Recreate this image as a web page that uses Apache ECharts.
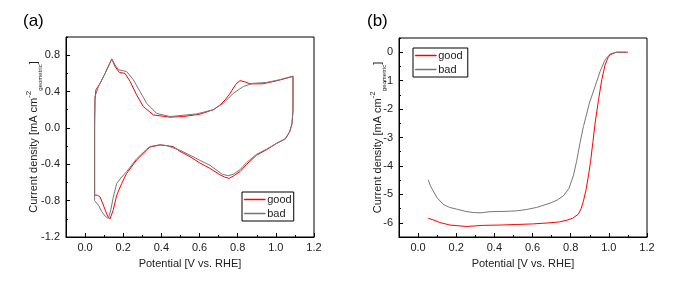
<!DOCTYPE html>
<html>
<head>
<meta charset="utf-8">
<script src="https://cdn.jsdelivr.net/npm/echarts@6/dist/echarts.min.js"></script>
<style>
  html, body { margin: 0; padding: 0; background: #fff; }
  #chart { width: 700px; height: 286px; }
</style>
</head>
<body>
<div id="chart"></div>
<script>
// (a) cyclic voltammograms, [potential V, current mA cm-2]
const cvGood = [
  [0.05, -0.74], [0.05, -0.3], [0.05, 0.02], [0.052, 0.31], [0.057, 0.42], [0.079, 0.49], [0.105, 0.6],
  [0.14, 0.758], [0.157, 0.676], [0.18, 0.61], [0.209, 0.6], [0.236, 0.51], [0.27, 0.364],
  [0.305, 0.235], [0.358, 0.143], [0.445, 0.118], [0.515, 0.125], [0.602, 0.151], [0.672, 0.2],
  [0.707, 0.25], [0.735, 0.31], [0.76, 0.38], [0.79, 0.48], [0.812, 0.52], [0.84, 0.505],
  [0.864, 0.485], [0.93, 0.485], [1.004, 0.518], [1.09, 0.566], [1.09, 0.2], [1.085, 0.05],
  [1.073, -0.04], [1.05, -0.12], [1.004, -0.17], [0.951, -0.24], [0.899, -0.3], [0.847, -0.4],
  [0.812, -0.48], [0.777, -0.53], [0.755, -0.555], [0.73, -0.54], [0.707, -0.515], [0.654, -0.445],
  [0.602, -0.386], [0.55, -0.317], [0.497, -0.257], [0.462, -0.206], [0.428, -0.195], [0.393, -0.188],
  [0.34, -0.21], [0.323, -0.243], [0.27, -0.353], [0.218, -0.5], [0.192, -0.61], [0.166, -0.74],
  [0.148, -0.9], [0.131, -1.0], [0.118, -0.97], [0.105, -0.9], [0.079, -0.76], [0.065, -0.74],
  [0.05, -0.74]
];
const cvBad = [
  [0.05, -0.8], [0.05, -0.3], [0.05, 0.1], [0.052, 0.345], [0.07, 0.455], [0.105, 0.6], [0.14, 0.76],
  [0.155, 0.7], [0.175, 0.64], [0.218, 0.62], [0.253, 0.53], [0.288, 0.4], [0.323, 0.27],
  [0.375, 0.16], [0.445, 0.125], [0.585, 0.154], [0.672, 0.2], [0.724, 0.27], [0.777, 0.38],
  [0.829, 0.455], [0.88, 0.49], [0.951, 0.5], [1.02, 0.53], [1.09, 0.57], [1.09, 0.2], [1.085, 0.05],
  [1.073, -0.04], [1.05, -0.12], [1.004, -0.17], [0.951, -0.235], [0.899, -0.29], [0.847, -0.38],
  [0.812, -0.46], [0.777, -0.51], [0.75, -0.526], [0.72, -0.51], [0.654, -0.41], [0.602, -0.357],
  [0.55, -0.3], [0.497, -0.245], [0.428, -0.195], [0.393, -0.185], [0.34, -0.205], [0.323, -0.235],
  [0.27, -0.34], [0.218, -0.48], [0.192, -0.54], [0.166, -0.61], [0.148, -0.76], [0.135, -0.9],
  [0.122, -0.996], [0.105, -0.97], [0.087, -0.92], [0.07, -0.85], [0.05, -0.8]
];

// (b) linear sweep voltammograms
const lsvGood = [
  [0.053, -5.84], [0.08, -5.9], [0.114, -5.99], [0.167, -6.08], [0.254, -6.13], [0.342, -6.09],
  [0.43, -6.08], [0.517, -6.06], [0.6, -6.04], [0.692, -6.0], [0.74, -5.97], [0.78, -5.91],
  [0.81, -5.84], [0.84, -5.7], [0.855, -5.5], [0.867, -5.23], [0.88, -4.85], [0.893, -4.35],
  [0.905, -3.8], [0.916, -3.18], [0.928, -2.49], [0.946, -1.67], [0.963, -0.97], [0.98, -0.45],
  [0.995, -0.2], [1.007, -0.09], [1.04, 0.0], [1.1, 0.0]
];
const lsvBad = [
  [0.053, -4.49], [0.065, -4.7], [0.079, -4.88], [0.1, -5.12], [0.131, -5.35], [0.165, -5.46],
  [0.202, -5.52], [0.25, -5.6], [0.289, -5.64], [0.33, -5.65], [0.377, -5.61], [0.45, -5.6],
  [0.517, -5.58], [0.57, -5.53], [0.622, -5.46], [0.692, -5.31], [0.73, -5.2], [0.762, -5.05],
  [0.79, -4.8], [0.814, -4.35], [0.832, -3.8], [0.849, -3.18], [0.867, -2.61], [0.898, -1.79],
  [0.928, -1.2], [0.954, -0.68], [0.98, -0.27], [1.007, -0.06], [1.04, 0.0], [1.09, 0.0]
];

// tick values
const xMajor = [0, 0.2, 0.4, 0.6, 0.8, 1.0, 1.2];
const xMinor = [-0.1, 0.1, 0.3, 0.5, 0.7, 0.9, 1.1];
const cvMajor = [-1.2, -0.8, -0.4, 0, 0.4, 0.8];
const cvMinor = [-1.0, -0.6, -0.2, 0.2, 0.6, 1.0];
const lsvMajor = [-6, -5, -4, -3, -2, -1, 0];
const lsvMinor = [-6.5, -5.5, -4.5, -3.5, -2.5, -1.5, -0.5, 0.5];

const RED = '#ff0000';
const GREY = '#777';
const FONT = '"Liberation Sans", Arial, sans-serif';
const yName = '{t|Current density [mA cm}{sup|-2}{sub|geometric}{t|]}';
const nameRich = {
  t: { fontSize: 11, fontFamily: FONT, color: '#222', lineHeight: 18, verticalAlign: 'middle' },
  sup: { fontSize: 8, fontFamily: FONT, color: '#222', lineHeight: 9, verticalAlign: 'top' },
  sub: { fontSize: 6, fontFamily: FONT, color: '#222', lineHeight: 7, verticalAlign: 'bottom' }
};

function xAxes(grid) {
  return [
    {
      type: 'value', gridIndex: grid, position: 'bottom', min: -0.1, max: 1.2,
      name: 'Potential [V vs. RHE]', nameLocation: 'middle', nameGap: 21, nameMoveOverlap: false,
      nameTextStyle: { fontSize: 11, fontFamily: FONT, color: '#222' },
      axisLine: { onZero: false, lineStyle: { color: '#000', width: 1 } },
      axisTick: { inside: true, length: 4, customValues: xMajor, lineStyle: { color: '#000' } },
      axisLabel: { customValues: xMajor, fontSize: 11, fontFamily: FONT, color: '#222', margin: 5,
        formatter: v => v.toFixed(1) },
      splitLine: { show: false }
    },
    {
      type: 'value', gridIndex: grid, position: 'bottom', min: -0.1, max: 1.2,
      axisLine: { show: false, onZero: false },
      axisTick: { inside: true, length: 2, customValues: xMinor, lineStyle: { color: '#000' } },
      axisLabel: { show: false },
      splitLine: { show: false }
    }
  ];
}

function yAxes(grid, min, max, major, minor, fmt, gap) {
  return [
    {
      type: 'value', gridIndex: grid, position: 'left', min: min, max: max,
      name: yName, nameLocation: 'middle', nameGap: gap, nameMoveOverlap: false,
      nameTextStyle: { rich: nameRich },
      axisLine: { show: true, onZero: false, lineStyle: { color: '#000', width: 1 } },
      axisTick: { show: true, inside: true, length: 4, customValues: major, lineStyle: { color: '#000' } },
      axisLabel: { customValues: major, fontSize: 11, fontFamily: FONT, color: '#222', margin: 6, formatter: fmt },
      splitLine: { show: false }
    },
    {
      type: 'value', gridIndex: grid, position: 'left', min: min, max: max,
      axisLine: { show: false, onZero: false },
      axisTick: { show: true, inside: true, length: 2, customValues: minor, lineStyle: { color: '#000' } },
      axisLabel: { show: false },
      splitLine: { show: false }
    }
  ];
}

function legendItems(good, bad) {
  return [
    { name: good, icon: 'rect', itemStyle: { color: RED, borderColor: RED, borderWidth: 0.5 } },
    { name: bad, icon: 'rect', itemStyle: { color: GREY, borderColor: GREY, borderWidth: 0.5 } }
  ];
}

const legendBase = {
  orient: 'vertical',
  itemWidth: 21, itemHeight: 1, itemGap: 1, padding: [1, 2, 1, 2],
  borderColor: '#000', borderWidth: 1, borderRadius: 0,
  textStyle: { fontSize: 11, fontFamily: FONT, color: '#222', lineHeight: 13, padding: [0, 0, 0, -3] }
};

const chart = echarts.init(document.getElementById('chart'));

const option = {
  backgroundColor: '#fff',
  animation: false,
  title: [
    { text: '(a)', left: 18, top: 8, textStyle: { fontSize: 17, fontWeight: 'normal', fontFamily: FONT, color: '#000' } },
    { text: '(b)', left: 362, top: 8, textStyle: { fontSize: 17, fontWeight: 'normal', fontFamily: FONT, color: '#000' } }
  ],
  grid: [
    { left: 66, right: 386, top: 37, bottom: 49, show: true, borderColor: '#000', borderWidth: 1 },
    { left: 399, right: 53, top: 38, bottom: 49, show: true, borderColor: '#000', borderWidth: 1 }
  ],
  legend: [
    Object.assign({}, legendBase, { data: legendItems('good', 'bad'), left: 242, top: 192 }),
    Object.assign({}, legendBase, { data: legendItems('good ', 'bad '), left: 413, top: 48 })
  ],
  xAxis: [...xAxes(0), ...xAxes(1)],
  yAxis: [
    ...yAxes(0, -1.2, 1.0, cvMajor, cvMinor, v => v.toFixed(1), 23),
    ...yAxes(1, -6.5, 0.5, lsvMajor, lsvMinor, v => String(Math.round(v)), 12)
  ],
  series: [
    { name: 'good', type: 'line', xAxisIndex: 0, yAxisIndex: 0, data: cvGood, symbol: 'none',
      lineStyle: { color: RED, width: 1 }, itemStyle: { color: RED } },
    { name: 'bad', type: 'line', xAxisIndex: 0, yAxisIndex: 0, data: cvBad, symbol: 'none',
      lineStyle: { color: GREY, width: 1 }, itemStyle: { color: GREY } },
    { name: 'good ', type: 'line', xAxisIndex: 2, yAxisIndex: 2, data: lsvGood, symbol: 'none',
      lineStyle: { color: RED, width: 1 }, itemStyle: { color: RED } },
    { name: 'bad ', type: 'line', xAxisIndex: 2, yAxisIndex: 2, data: lsvBad, symbol: 'none',
      lineStyle: { color: GREY, width: 1 }, itemStyle: { color: GREY } }
  ]
};

chart.setOption(option);
</script>
</body>
</html>
